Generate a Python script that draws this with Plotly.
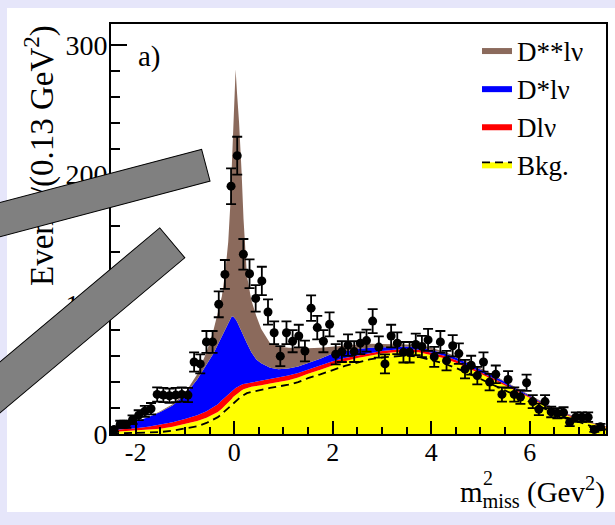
import plotly.graph_objects as go

# ---------------- data points (bin centres, counts, errors) ----------------
m2_bins = [-2.4375, -2.3125, -2.1875, -2.0625, -1.9375, -1.8125, -1.6875, -1.5625, -1.4375, -1.3125,
           -1.1875, -1.0625, -0.9375, -0.8125, -0.6875, -0.5625, -0.4375, -0.3125, -0.1875, -0.0625,
           0.0625, 0.1875, 0.3125, 0.4375, 0.5625, 0.6875, 0.8125, 0.9375, 1.0625, 1.1875,
           1.3125, 1.4375, 1.5625, 1.6875, 1.8125, 1.9375, 2.0625, 2.1875, 2.3125, 2.4375,
           2.5625, 2.6875, 2.8125, 2.9375, 3.0625, 3.1875, 3.3125, 3.4375, 3.5625, 3.6875,
           3.8125, 3.9375, 4.0625, 4.1875, 4.3125, 4.4375, 4.5625, 4.6875, 4.8125, 4.9375,
           5.0625, 5.1875, 5.3125, 5.4375, 5.5625, 5.6875, 5.8125, 5.9375, 6.0625, 6.1875,
           6.3125, 6.4375, 6.5625, 6.6875, 6.8125, 6.9375, 7.0625, 7.1875, 7.3125, 7.4375]
events = [3.5, 7.5, 7.5, 11, 14.5, 17.5, 19.5, 30.5, 30, 29.5,
          30, 30.5, 30, 55.5, 54, 71, 71, 100, 123, 191,
          214.5, 138.5, 123.5, 104.5, 118, 94, 78, 60, 78, 71.5,
          75.5, 64, 97, 82, 71.5, 84.5, 61.5, 63.5, 68.5, 63.5,
          70, 72, 87, 67, 54, 75.5, 70, 63, 63, 69,
          67.5, 72.5, 59.5, 71, 56.5, 68, 62, 50, 53, 45,
          55.5, 40, 46, 30.5, 42, 30.5, 28.5, 39.5, 25, 19,
          25, 17, 16, 16.5, 9, 13, 13, 13, 3.5, 5.5]
events_err = [1.9, 2.7, 2.7, 3.3, 3.8, 4.2, 4.4, 5.5, 5.5, 5.4,
              5.5, 5.5, 5.5, 7.4, 7.3, 8.4, 8.4, 10, 11.1, 13.8,
              14.6, 11.8, 11.1, 10.2, 10.9, 9.7, 8.8, 7.7, 8.8, 8.5,
              8.7, 8.0, 9.8, 9.1, 8.5, 9.2, 7.8, 8.0, 8.3, 8.0,
              8.4, 8.5, 9.3, 8.2, 7.3, 8.7, 8.4, 7.9, 7.9, 8.3,
              8.2, 8.5, 7.7, 8.4, 7.5, 8.2, 7.9, 7.1, 7.3, 6.7,
              7.4, 6.3, 6.8, 5.5, 6.5, 5.5, 5.3, 6.3, 5.0, 4.4,
              5.0, 4.1, 4.0, 4.1, 3.0, 3.6, 3.6, 3.6, 1.9, 2.3]

# ---------------- fit components (upper edge of each stacked layer) ----------------
curve_x = [-2.5, -2.25, -2.0, -1.75, -1.5, -1.25, -1.0, -0.75, -0.56, -0.42,
           -0.33, -0.25, -0.18, -0.12, -0.08, -0.05, -0.02, 0.01, 0.03, 0.06,
           0.1, 0.15, 0.19, 0.26, 0.35, 0.45, 0.55, 0.73, 0.9, 1.1,
           1.3, 1.5, 1.75, 2.0, 2.25, 2.5, 2.75, 3.0, 3.25, 3.5,
           3.75, 4.0, 4.25, 4.5, 4.75, 5.0, 5.25, 5.5, 5.75, 6.0,
           6.25, 6.5, 6.75, 7.0, 7.25, 7.55]
bkg_dashed = [0.3, 0.5, 0.7, 1, 1.5, 2.5, 4, 6, 8.5, 11,
              13, 15.5, 18, 20, 21.5, 22.5, 24, 25, 25.5, 26.5,
              27.5, 29, 30, 31.5, 32.5, 33.5, 34, 35.5, 36.5, 38,
              40, 43, 46, 49.5, 52.5, 55, 57.5, 59, 60, 60.5,
              59.5, 57, 54.5, 51, 47, 42.5, 38, 33.5, 29, 24.5,
              20, 16, 12.5, 9, 6, 3.5]
bkg_total = [1.5, 2, 2.5, 3, 4, 5.5, 7.5, 10, 12.5, 15,
             17, 19.5, 22, 24.5, 26, 27, 28.5, 29.5, 30, 31,
             32.5, 33.5, 34.5, 35.5, 36.5, 37, 37.5, 39, 40, 41.5,
             43.5, 46.5, 49.5, 53, 56, 58.5, 60.5, 62, 63, 63.5,
             63, 61, 58.5, 55, 51, 46.5, 42, 37.5, 32.5, 28,
             23, 18.5, 14.5, 11, 8, 5]
dlnu_top = [3, 3.5, 4.5, 5.5, 7, 9, 11.5, 14.5, 17.5, 20.5,
            23, 26, 28.5, 30.5, 32, 33, 34, 35, 35.5, 36,
            37, 38, 38.5, 39, 40, 40.5, 41, 42.5, 43.5, 45,
            47, 49.5, 52.5, 56, 58.5, 60.5, 62.5, 64, 65, 65.5,
            65, 63, 60.5, 57, 52.5, 48, 43.5, 38.5, 33.5, 28.5,
            23.5, 19, 15, 11.5, 8.5, 5.5]
dstar_top = [4, 6.5, 9.5, 13, 17, 22, 30, 42, 53, 62,
             69, 75, 81, 86, 89, 90.5, 90.5, 89.5, 88.5, 86.5,
             83, 78.5, 75.5, 70, 63, 57.5, 54.5, 51, 50, 50.5,
             52, 54.5, 58, 62, 64, 65.5, 66.5, 67, 67.5, 67.5,
             67, 65, 62.5, 59, 54.5, 50, 45, 40, 34.5, 29.5,
             24.5, 19.5, 15.5, 12, 8.5, 5.5]
dstarstar_top = [4, 6.5, 9.5, 13, 17.5, 23, 31.5, 46, 63, 80,
                 93, 106, 125, 148, 175, 205, 245, 275, 281, 262,
                 240, 203, 166, 122, 103, 91, 81, 70, 67.5, 66.5,
                 66, 66, 66.5, 67.5, 68.5, 69, 69.5, 69.5, 69.5, 69,
                 68.5, 66.5, 63.5, 60, 55.5, 51, 46, 40.5, 35, 30,
                 25, 20, 16, 12.5, 9, 6]

names = ["Bkg.", "Dlν", "D*lν", "D**lν"]
x_tick_vals = [-2, 0, 2, 4, 6]
x_tick_text = ["-2", "0", "2", "4", "6"]
y_tick_vals = [0, 100, 200, 300]
y_tick_text = ["0", "100", "200", "300"]

SERIF = "Liberation Serif, Times New Roman, Times, serif"
W, H = 615, 525
ML, MR, MT, MB = 111, 9, 24, 91
PW, PH = W - ML - MR, H - MT - MB


def px2paper(px, py):
    return (px - ML) / PW, (H - MB - py) / PH


fig = go.Figure()
fig.add_trace(go.Scatter(x=curve_x, y=bkg_dashed, mode="lines", fill="tozeroy",
                         fillcolor="#ffff00", line=dict(color="black", width=1.8, dash="8px,5px"),
                         name=names[0], legendgroup="bkg", hoverinfo="skip"))
fig.add_trace(go.Scatter(x=curve_x, y=bkg_total, mode="lines", fill="tonexty",
                         fillcolor="#ffff00", line=dict(width=0), showlegend=False,
                         legendgroup="bkg", hoverinfo="skip"))
fig.add_trace(go.Scatter(x=curve_x, y=dlnu_top, mode="lines", fill="tonexty",
                         fillcolor="#ff0000", line=dict(width=0), name=names[1], hoverinfo="skip"))
fig.add_trace(go.Scatter(x=curve_x, y=dstar_top, mode="lines", fill="tonexty",
                         fillcolor="#0000ff", line=dict(width=0), name=names[2], hoverinfo="skip"))
fig.add_trace(go.Scatter(x=curve_x, y=dstarstar_top, mode="lines", fill="tonexty",
                         fillcolor="#8b6a5c", line=dict(width=0), name=names[3], hoverinfo="skip"))
fig.add_trace(go.Scatter(x=m2_bins, y=events, mode="markers", showlegend=False,
                         marker=dict(color="black", size=9),
                         error_y=dict(type="data", array=events_err, visible=True,
                                      color="black", thickness=1.8, width=5)))

axis_common = dict(showline=True, mirror=True, linecolor="black", linewidth=1.6,
                   ticks="inside", tickcolor="black", tickwidth=1.5,
                   showgrid=False, zeroline=False, tickmode="array")

fig.update_xaxes(range=[-2.5, 7.55], tickvals=x_tick_vals, ticktext=x_tick_text,
                 ticklen=13, ticklabelstandoff=-6,
                 tickfont=dict(family=SERIF, size=26, color="black"),
                 minor=dict(tickmode="linear", tick0=0, dtick=0.5, ticks="inside", ticklen=7,
                            tickwidth=1.5, tickcolor="black"),
                 **axis_common)
fig.update_yaxes(range=[0, 316], tickvals=y_tick_vals, ticktext=y_tick_text,
                 ticklen=16, ticklabelstandoff=-4,
                 tickfont=dict(family=SERIF, size=28, color="black"),
                 minor=dict(tickmode="linear", tick0=0, dtick=20, ticks="inside", ticklen=9,
                            tickwidth=1.5, tickcolor="black"),
                 **axis_common)

# white slide panel behind the chart
p0 = px2paper(7, 8)
p1 = px2paper(640, 512)
shapes = [dict(type="rect", xref="paper", yref="paper", layer="below",
               x0=p0[0], y0=p1[1], x1=p1[0], y1=p0[1],
               fillcolor="white", line=dict(width=0))]

annotations = []
# y-axis title
yt = px2paper(40, 156)
annotations.append(dict(text="Events/(0.13 GeV<sup>2</sup>)", xref="paper", yref="paper",
                        x=yt[0], y=yt[1], textangle=-90, showarrow=False,
                        xanchor="center", yanchor="middle",
                        font=dict(family=SERIF, size=33, color="black")))
# panel label
pa = px2paper(136, 57)
annotations.append(dict(text="a)", xref="paper", yref="paper", x=pa[0], y=pa[1],
                        showarrow=False, xanchor="left", yanchor="middle",
                        font=dict(family=SERIF, size=29, color="black")))
# x-axis title (m^2_miss with stacked super/subscript)
xt = px2paper(458, 492)
annotations.append(dict(text="m<sub>miss</sub> (Gev<sup>2</sup>)", xref="paper", yref="paper",
                        x=xt[0], y=xt[1], showarrow=False, xanchor="left", yanchor="middle",
                        font=dict(family=SERIF, size=29, color="black")))
xs2 = px2paper(481, 478)
annotations.append(dict(text="2", xref="paper", yref="paper", x=xs2[0], y=xs2[1],
                        showarrow=False, xanchor="left", yanchor="middle",
                        font=dict(family=SERIF, size=20, color="black")))
# two grey slanted bars lying over the figure
for cx, cy, length, thick, ang in [(70.5, 201.1, 280, 34, -14.8),
                                   (35.1, 358.4, 360, 39.7, -40.0)]:
    c = px2paper(cx, cy)
    annotations.append(dict(text=" ", xref="paper", yref="paper", x=c[0], y=c[1],
                            showarrow=False, xanchor="center", yanchor="middle",
                            width=length - 2, height=thick - 2, textangle=ang,
                            bgcolor="#808080", bordercolor="black", borderwidth=1,
                            borderpad=0, font=dict(size=2)))

lg = px2paper(477, 26)
fig.update_layout(
    width=W, height=H, template="none",
    font=dict(family=SERIF, color="black"),
    margin=dict(l=ML, r=MR, t=MT, b=MB, autoexpand=False),
    paper_bgcolor="#e6e6fa", plot_bgcolor="white",
    showlegend=True,
    legend=dict(x=lg[0], y=lg[1], xanchor="left", yanchor="top", traceorder="reversed",
                bgcolor="rgba(0,0,0,0)", borderwidth=0,
                font=dict(family=SERIF, size=27, color="black")),
    shapes=shapes, annotations=annotations,
)

fig.write_html("out.html")
